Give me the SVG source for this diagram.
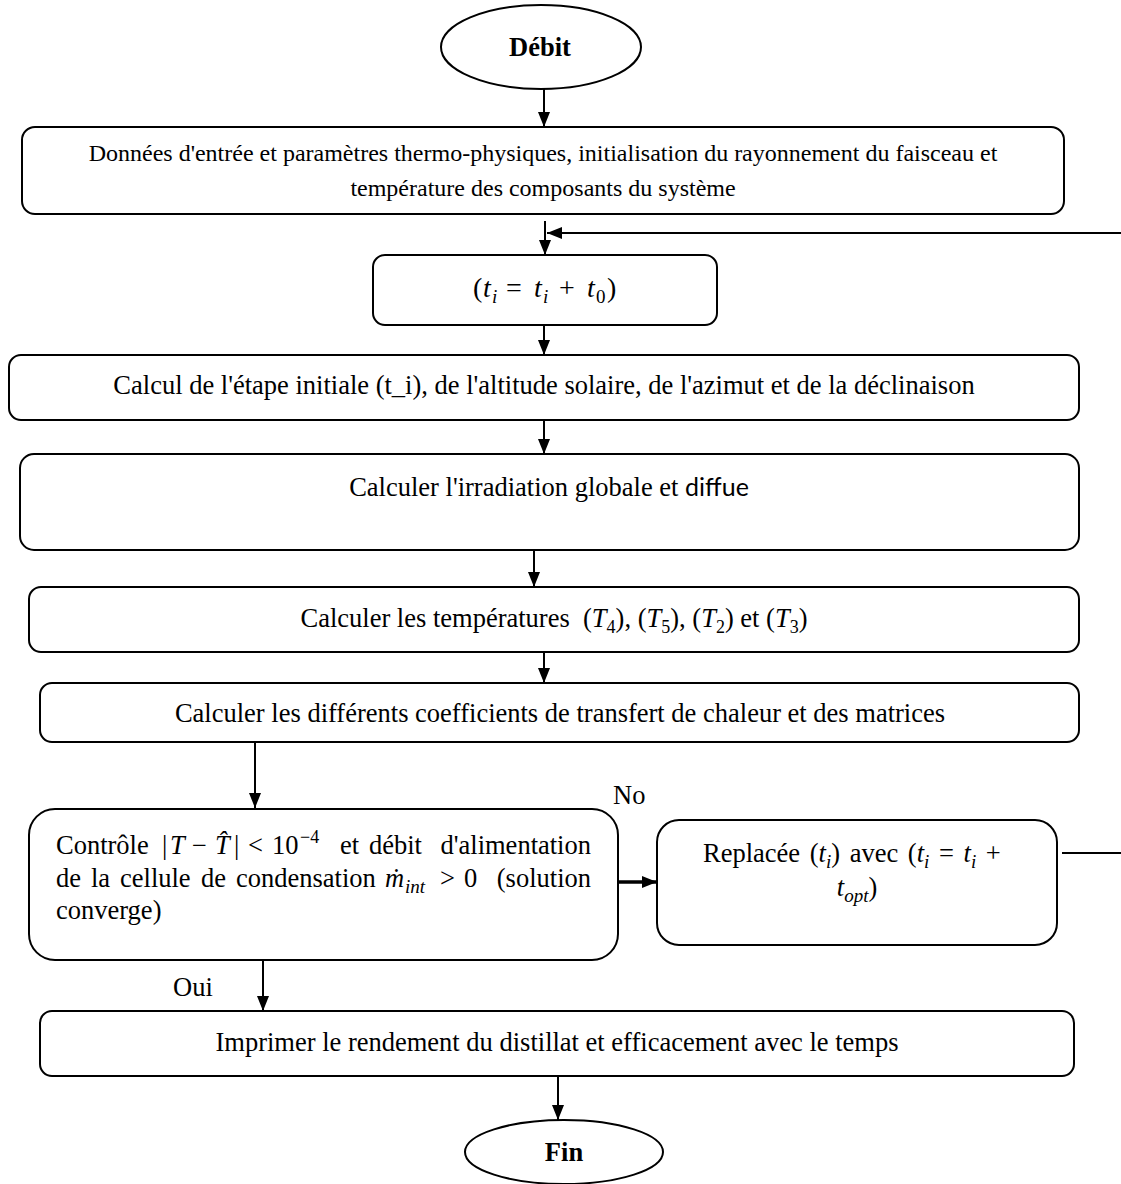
<svg xmlns="http://www.w3.org/2000/svg" width="1121" height="1184" viewBox="0 0 1121 1184">
<style>
.box{fill:#fff;stroke:#000;stroke-width:2}
.t{font-family:"Liberation Serif","Times New Roman",serif;font-size:26.5px;fill:#000}
.c{text-anchor:middle}
.b{font-weight:bold}
.m{font-family:"Liberation Serif","Times New Roman",serif;font-style:italic}
.conn{stroke:#000;stroke-width:2;fill:none}
</style>
<defs>
<marker id="ah" markerUnits="userSpaceOnUse" markerWidth="15" markerHeight="12" refX="15" refY="6" orient="auto">
<path d="M0,0 L15,6 L0,12 z" fill="#000"/>
</marker>
</defs>
<rect width="1121" height="1184" fill="#fff"/>
<g id="connectors">
<line class="conn" x1="544" y1="89" x2="544" y2="127" marker-end="url(#ah)"/>
<line class="conn" x1="545" y1="221" x2="545" y2="255" marker-end="url(#ah)"/>
<line class="conn" x1="1121" y1="233" x2="547" y2="233" marker-end="url(#ah)"/>
<line class="conn" x1="544" y1="325" x2="544" y2="355" marker-end="url(#ah)"/>
<line class="conn" x1="544" y1="420" x2="544" y2="454" marker-end="url(#ah)"/>
<line class="conn" x1="534" y1="550" x2="534" y2="587" marker-end="url(#ah)"/>
<line class="conn" x1="544" y1="652" x2="544" y2="683" marker-end="url(#ah)"/>
<line class="conn" x1="255" y1="742" x2="255" y2="808" marker-end="url(#ah)"/>
<line class="conn" style="stroke-width:3.5" x1="618" y1="882" x2="657" y2="882" marker-end="url(#ah)"/>
<line class="conn" x1="1062" y1="853" x2="1121" y2="853"/>
<line class="conn" x1="263" y1="960" x2="263" y2="1011" marker-end="url(#ah)"/>
<line class="conn" x1="558" y1="1076" x2="558" y2="1120" marker-end="url(#ah)"/>
<text class="t" x="613" y="804">No</text>
<text class="t" x="173" y="996">Oui</text>
</g>
<g id="start">
<ellipse class="box" cx="541" cy="47" rx="100" ry="42"/>
<text class="t c b" x="540" y="56">Débit</text>
</g>
<g id="input">
<rect class="box" x="22" y="127" width="1042" height="87" rx="13"/>
<text class="t c" style="font-size:24px" x="543" y="161">Données d'entrée et paramètres thermo-physiques, initialisation du rayonnement du faisceau et</text>
<text class="t c" style="font-size:24px" x="543" y="196">température des composants du système</text>
</g>
<g id="increment">
<rect class="box" x="373" y="255" width="344" height="70" rx="12"/>
<text class="t" style="font-size:28px" y="297"><tspan x="473">(</tspan><tspan class="m" x="483">t</tspan><tspan class="m" font-size="19" x="492" dy="6">i</tspan><tspan x="506" dy="-6">=</tspan><tspan class="m" x="534">t</tspan><tspan class="m" font-size="19" x="543" dy="6">i</tspan><tspan x="559" dy="-6">+</tspan><tspan class="m" x="587">t</tspan><tspan font-size="19" x="596" dy="6">0</tspan><tspan x="607" dy="-6">)</tspan></text>
</g>
<g id="solar">
<rect class="box" x="9" y="355" width="1070" height="65" rx="12"/>
<text class="t c" x="544" y="394">Calcul de l'étape initiale (t_i), de l'altitude solaire, de l'azimut et de la déclinaison</text>
</g>
<g id="irradiation">
<rect class="box" x="20" y="454" width="1059" height="96" rx="14"/>
<text class="t c" x="549" y="496">Calculer l'irradiation globale et <tspan style="font-family:Lato,'Open Sans',sans-serif;font-size:25px">diffue</tspan></text>
</g>
<g id="temperatures">
<rect class="box" x="29" y="587" width="1050" height="65" rx="12"/>
<text class="t c" x="554" y="627">Calculer les températures &#160;(<tspan class="m">T</tspan><tspan font-size="18" dy="6">4</tspan><tspan dy="-6">), (</tspan><tspan class="m">T</tspan><tspan font-size="18" dy="6">5</tspan><tspan dy="-6">), (</tspan><tspan class="m">T</tspan><tspan font-size="18" dy="6">2</tspan><tspan dy="-6">) et (</tspan><tspan class="m">T</tspan><tspan font-size="18" dy="6">3</tspan><tspan dy="-6">)</tspan></text>
</g>
<g id="coefficients">
<rect class="box" x="40" y="683" width="1039" height="59" rx="12"/>
<text class="t c" x="560" y="722">Calculer les différents coefficients de transfert de chaleur et des matrices</text>
</g>
<g id="check">
<rect class="box" x="29" y="809" width="589" height="151" rx="26"/>
<text class="t" x="56" y="854">Contrôle</text>
<text class="t" y="854"><tspan x="162">|</tspan><tspan class="m" x="170">T</tspan><tspan x="192">−</tspan><tspan class="m" x="215">T̂</tspan><tspan x="234">|</tspan><tspan x="248">&lt;</tspan><tspan x="272">10</tspan><tspan font-size="18" x="300" dy="-11">−4</tspan></text>
<text class="t" x="340" y="854">et</text>
<text class="t" x="369" y="854">débit</text>
<text class="t" x="591" y="854" text-anchor="end">d'alimentation</text>
<text class="t" x="56" y="887">de</text>
<text class="t" x="91" y="887">la</text>
<text class="t" x="120" y="887">cellule</text>
<text class="t" x="201" y="887">de</text>
<text class="t" x="236" y="887">condensation</text>
<text class="t" y="887"><tspan class="m" x="385">ṁ</tspan><tspan class="m" font-size="19" x="405" dy="6">int</tspan><tspan x="440" dy="-6">&gt;</tspan><tspan x="464">0</tspan></text>
<text class="t" x="591" y="887" text-anchor="end">(solution</text>
<text class="t" x="56" y="919">converge)</text>
</g>
<g id="replace">
<rect class="box" x="657" y="820" width="400" height="125" rx="22"/>
<text class="t" y="862" word-spacing="3"><tspan x="703">Replacée (</tspan><tspan class="m">t</tspan><tspan class="m" font-size="19" dy="6">i</tspan><tspan dy="-6">) avec (</tspan><tspan class="m">t</tspan><tspan class="m" font-size="19" dy="6">i</tspan><tspan dy="-6"> = </tspan><tspan class="m">t</tspan><tspan class="m" font-size="19" dy="6">i</tspan><tspan dy="-6"> +</tspan></text>
<text class="t c" x="857" y="896"><tspan class="m">t</tspan><tspan class="m" font-size="19" dy="6">opt</tspan><tspan dy="-6">)</tspan></text>
</g>
<g id="output">
<rect class="box" x="40" y="1011" width="1034" height="65" rx="12"/>
<text class="t c" x="557" y="1051">Imprimer le rendement du distillat et efficacement avec le temps</text>
</g>
<g id="end">
<ellipse class="box" cx="564" cy="1152" rx="99" ry="32"/>
<text class="t c b" x="564" y="1161">Fin</text>
</g>
</svg>
